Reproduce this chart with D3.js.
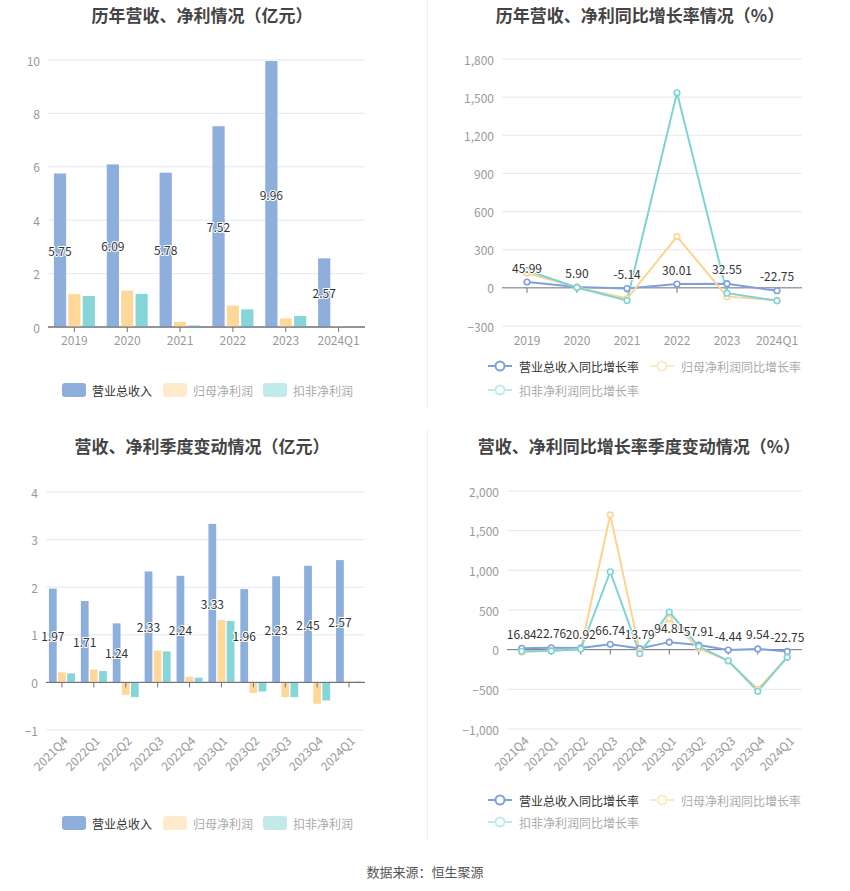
<!DOCTYPE html>
<html><head><meta charset="utf-8">
<script src="https://cdn.jsdelivr.net/npm/d3@7/dist/d3.min.js"></script>
<style>
body{margin:0;background:#fff;}
svg{display:block;font-family:"Noto Sans CJK SC","Noto Sans",sans-serif;}
</style></head>
<body>
<svg id="c" width="850" height="891"></svg>
<script>
// ---- data ----
const years = ["2019","2020","2021","2022","2023","2024Q1"];
const yearRevenue = [5.75, 6.09, 5.78, 7.52, 9.96, 2.57];
const yearNetProfit = [1.23, 1.36, 0.19, 0.80, 0.32, 0.03];
const yearDeductProfit = [1.16, 1.24, 0.06, 0.66, 0.41, 0.02];

const yearRevenueGrowth = [45.99, 5.90, -5.14, 30.01, 32.55, -22.75];
const yearNetGrowth = [116, 5, -84, 403, -69, -97];
const yearDeductGrowth = [137, 3, -100, 1534, -42, -102];

const quarters = ["2021Q4","2022Q1","2022Q2","2022Q3","2022Q4","2023Q1","2023Q2","2023Q3","2023Q4","2024Q1"];
const qRevenue = [1.97, 1.71, 1.24, 2.33, 2.24, 3.33, 1.96, 2.23, 2.45, 2.57];
const qNetProfit = [0.21, 0.27, -0.26, 0.67, 0.12, 1.31, -0.22, -0.31, -0.45, 0.03];
const qDeductProfit = [0.19, 0.24, -0.31, 0.65, 0.10, 1.29, -0.19, -0.31, -0.38, 0.02];

const qRevenueGrowth = [16.84, 22.76, 20.92, 66.74, 13.79, 94.81, 57.91, -4.44, 9.54, -22.75];
const qNetGrowth = [-29, -10, 5, 1700, -20, 390, 15, -140, -500, -90];
const qDeductGrowth = [-20, -16, 8, 982, -50, 475, 40, -140, -525, -97];

const barNames = ["营业总收入","归母净利润","扣非净利润"];
const lineNames = ["营业总收入同比增长率","归母净利润同比增长率","扣非净利润同比增长率"];
const titles = ["历年营收、净利情况（亿元）","历年营收、净利同比增长率情况（%）","营收、净利季度变动情况（亿元）","营收、净利同比增长率季度变动情况（%）"];
const source = "数据来源：恒生聚源";

const barColors = ["#8eaedc","#ffd899","#86d5d8"];
const lineColors = ["#7f9fdd","#ffd38e","#7dd4d6"];
const legendSwatch = ["#8eaedc","#ffebcc","#c3eaea"];
const legendLine = ["#7f9fdd","#ffe8c4","#bfe9ea"];
const legendText = ["#333","#aaa","#aaa"];

const svg = d3.select("#c");
const gridColor = "#e3e8f3", axisColor = "#6e7079", labelColor = "#999";

// dividers
svg.append("line").attr("x1",427.5).attr("x2",427.5).attr("y1",0).attr("y2",408).attr("stroke","#eee");
svg.append("line").attr("x1",427.5).attr("x2",427.5).attr("y1",430).attr("y2",840).attr("stroke","#eee");

// titles
[[202,14],[640,14],[202,445],[639,445]].forEach((p,i)=>{
  svg.append("text").attr("x",p[0]).attr("y",p[1]).attr("text-anchor","middle").attr("dominant-baseline","central")
    .attr("font-size",17).attr("font-weight","bold").attr("fill","#444").text(titles[i]);
});

function yAxis(g, y, ticks, x0, x1, fmt){
  ticks.forEach(t=>{
    g.append("line").attr("x1",x0).attr("x2",x1).attr("y1",y(t)).attr("y2",y(t))
      .attr("stroke", t===0? axisColor: gridColor).attr("stroke-width",1);
    g.append("text").attr("x",x0-8).attr("y",y(t)).attr("text-anchor","end").attr("dominant-baseline","central")
      .attr("font-size",12).attr("fill",labelColor).text(fmt(t));
  });
}

function barChart(cats, series, xr, yd, yr, ticks, bw, groupHalf, labelY, rotate){
  const g = svg.append("g");
  const x = d3.scaleBand().domain(cats).range(xr);
  const y = d3.scaleLinear().domain(yd).range(yr);
  yAxis(g, y, ticks, xr[0], xr[1], d3.format(","));
  const x1 = d3.scaleBand().domain([0,1,2]).range([-groupHalf, groupHalf]).paddingInner(0.15);
  series.forEach((s,si)=>{
    g.selectAll(null).data(s).enter().append("rect")
      .attr("x",(d,i)=>x(cats[i])+x.bandwidth()/2+x1(si))
      .attr("width",x1.bandwidth())
      .attr("y",d=>Math.min(y(d),y(0)))
      .attr("height",d=>Math.abs(y(d)-y(0)))
      .attr("fill",barColors[si]);
  });
  // zero line on top
  g.append("line").attr("x1",xr[0]).attr("x2",xr[1]).attr("y1",y(0)).attr("y2",y(0)).attr("stroke",axisColor);
  cats.forEach(c=>{
    const cx = x(c)+x.bandwidth()/2;
    g.append("line").attr("x1",cx).attr("x2",cx).attr("y1",y(0)).attr("y2",y(0)+5).attr("stroke",axisColor);
    if(rotate){
      g.append("text").attr("transform",`translate(${cx+3},${labelY}) rotate(-45)`).attr("text-anchor","end")
        .attr("dominant-baseline","central").attr("font-size",12).attr("fill",labelColor).text(c);
    } else {
      g.append("text").attr("x",cx).attr("y",labelY).attr("text-anchor","middle").attr("dominant-baseline","central")
        .attr("font-size",12).attr("fill",labelColor).text(c);
    }
  });
  // value labels in middle of revenue bars
  g.selectAll(null).data(series[0]).enter().append("text")
    .attr("x",(d,i)=>x(cats[i])+x.bandwidth()/2+x1(0)+x1.bandwidth()/2)
    .attr("y",d=>y(d/2)).attr("text-anchor","middle").attr("dominant-baseline","central")
    .attr("font-size",12).attr("fill","#333").attr("stroke","#fff").attr("stroke-width",2).attr("paint-order","stroke")
    .text(d=>d.toFixed(2));
}

function lineChart(cats, series, xr, yd, yr, ticks, labelY, rotate){
  const g = svg.append("g");
  const x = d3.scaleBand().domain(cats).range(xr);
  const y = d3.scaleLinear().domain(yd).range(yr);
  yAxis(g, y, ticks, xr[0], xr[1], d3.format(","));
  cats.forEach(c=>{
    const cx = x(c)+x.bandwidth()/2;
    g.append("line").attr("x1",cx).attr("x2",cx).attr("y1",y(0)).attr("y2",y(0)+5).attr("stroke",axisColor);
    if(rotate){
      g.append("text").attr("transform",`translate(${cx+4},${labelY}) rotate(-45)`).attr("text-anchor","end")
        .attr("dominant-baseline","central").attr("font-size",12).attr("fill",labelColor).text(c);
    } else {
      g.append("text").attr("x",cx).attr("y",labelY).attr("text-anchor","middle").attr("dominant-baseline","central")
        .attr("font-size",12).attr("fill",labelColor).text(c);
    }
  });
  const line = d3.line().x((d,i)=>x(cats[i])+x.bandwidth()/2).y(d=>y(d));
  [0,1,2].forEach(si=>{
    g.append("path").attr("d",line(series[si])).attr("fill","none").attr("stroke",lineColors[si]).attr("stroke-width",2);
  });
  [0,1,2].forEach(si=>{
    g.selectAll(null).data(series[si]).enter().append("circle")
      .attr("cx",(d,i)=>x(cats[i])+x.bandwidth()/2).attr("cy",d=>y(d)).attr("r",2.8)
      .attr("fill","#fff").attr("stroke",lineColors[si]).attr("stroke-width",1.6);
  });
  g.selectAll(null).data(series[0]).enter().append("text")
    .attr("x",(d,i)=>x(cats[i])+x.bandwidth()/2).attr("y",d=>y(d)-15)
    .attr("text-anchor","middle").attr("dominant-baseline","central")
    .attr("font-size",12).attr("fill","#333").attr("stroke","#fff").attr("stroke-width",2).attr("paint-order","stroke")
    .text(d=>d.toFixed(2));
}

function barLegend(yc){
  const xs = [62,163,263];
  barNames.forEach((n,i)=>{
    svg.append("rect").attr("x",xs[i]).attr("y",yc-7).attr("width",24).attr("height",14).attr("rx",3).attr("fill",legendSwatch[i]);
    svg.append("text").attr("x",xs[i]+30).attr("y",yc).attr("dominant-baseline","central").attr("font-size",12)
      .attr("fill",legendText[i]).text(n);
  });
}
function lineLegend(y1, y2){
  const pos = [[488,y1],[650,y1],[488,y2]];
  lineNames.forEach((n,i)=>{
    const [x,y] = pos[i];
    svg.append("line").attr("x1",x).attr("x2",x+24).attr("y1",y).attr("y2",y).attr("stroke",legendLine[i]).attr("stroke-width",2);
    svg.append("circle").attr("cx",x+12).attr("cy",y).attr("r",4.5).attr("fill","#fff").attr("stroke",legendLine[i]).attr("stroke-width",2);
    svg.append("text").attr("x",x+31).attr("y",y).attr("dominant-baseline","central").attr("font-size",12)
      .attr("fill",legendText[i]).text(n);
  });
}

barChart(years,[yearRevenue,yearNetProfit,yearDeductProfit],[48,365],[0,10],[327,60],[0,2,4,6,8,10],12*3/2+2.9,20.5,339,false);
lineChart(years,[yearRevenueGrowth,yearNetGrowth,yearDeductGrowth],[502,802],[-300,1800],[326,59],[-300,0,300,600,900,1200,1500,1800],339,false);
barChart(quarters,[qRevenue,qNetProfit,qDeductProfit],[46,365],[-1,4],[730,492],[-1,0,1,2,3,4],8,13,738,true);
lineChart(quarters,[qRevenueGrowth,qNetGrowth,qDeductGrowth],[507,802],[-1000,2000],[729,491],[-1000,-500,0,500,1000,1500,2000],738,true);

barLegend(390);
lineLegend(366,390);
barLegend(823);
lineLegend(800,822);

svg.append("text").attr("x",425).attr("y",871).attr("text-anchor","middle").attr("dominant-baseline","central")
  .attr("font-size",13).attr("fill","#555").text(source);
</script>
</body></html>
